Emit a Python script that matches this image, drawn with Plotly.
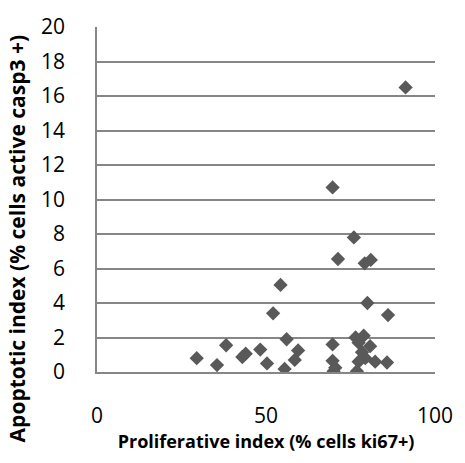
import plotly.graph_objects as go

prolif = [29.5, 35.5, 38.2, 43.0, 44.0, 48.3, 50.3, 52.1, 54.3, 56.1, 55.5, 59.5, 58.5,
          69.7, 69.7, 69.7, 70.0, 70.5, 71.3, 76.0, 79.2, 81.0, 80.0, 86.1, 76.5, 78.9,
          80.8, 77.4, 78.4, 79.4, 77.4, 76.9, 82.3, 85.8, 91.3]
apopt = [0.8, 0.4, 1.55, 0.87, 1.06, 1.3, 0.5, 3.4, 5.05, 1.9, 0.18, 1.25, 0.7,
         10.7, 1.6, 0.65, 0.05, 0.25, 6.55, 7.8, 6.3, 6.5, 4.0, 3.3, 2.0, 2.1,
         1.5, 1.7, 1.15, 0.8, 0.6, 0.05, 0.6, 0.55, 16.5]

fig = go.Figure(go.Scatter(
    x=prolif, y=apopt, mode="markers",
    marker=dict(symbol="diamond", size=11, color="#595959", line=dict(width=0)),
))

fig.update_layout(
    width=465, height=463,
    margin=dict(l=97, r=24, t=20, b=91),
    paper_bgcolor="white", plot_bgcolor="white",
    showlegend=False,
    font=dict(family="Open Sans", color="black"),
    annotations=[dict(
        text="<b>Apoptotic index (% cells active casp3 +)</b>",
        xref="paper", yref="paper", x=-0.238, y=0.386,
        xanchor="center", yanchor="middle", textangle=-90, showarrow=False,
        font=dict(size=21),
    )],
)
fig.update_xaxes(
    range=[0, 100], tickvals=[0, 50, 100], showgrid=False, zeroline=False,
    showline=True, linecolor="#868686", linewidth=1.5,
    tickfont=dict(size=21), ticks="", ticklabelstandoff=24,
    title=dict(text="<b>Proliferative index (% cells ki67+)</b>", font=dict(size=18), standoff=6),
)
fig.update_yaxes(
    range=[0, 20], dtick=2, showgrid=True, gridcolor="#868686", gridwidth=1.5,
    zeroline=False, showline=True, linecolor="#868686", linewidth=1.5,
    tickfont=dict(size=21), ticks="", ticklabelstandoff=26,
)
fig.write_html("out.html")
